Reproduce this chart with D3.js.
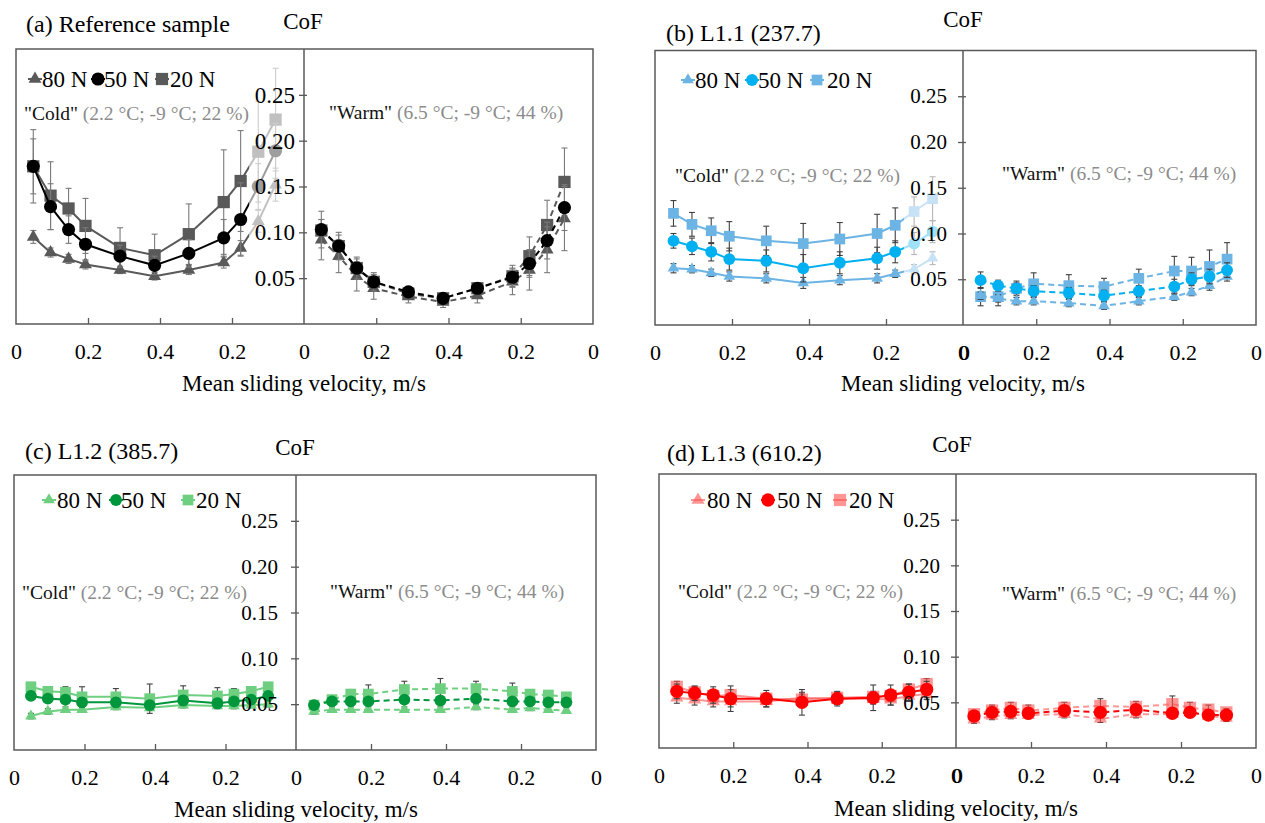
<!DOCTYPE html>
<html><head><meta charset="utf-8">
<script src="https://cdn.jsdelivr.net/npm/d3@7"></script>
<style>
body{margin:0;background:#fff;}
svg{display:block;}
svg text{font-family:"Liberation Serif","Times New Roman",serif !important;}
</style></head><body>
<svg id="chart" width="1265" height="823"></svg>
<script>
// ---------------- DATA ----------------
// x positions of the 11 measuring steps on the 0 -> 0.4 -> 0 velocity axis (0..0.8 scale)
const xPositions = [0.048, 0.096, 0.146, 0.193, 0.289, 0.385, 0.480, 0.577, 0.624, 0.673, 0.721];
const xTickValues = [0, 0.2, 0.4, 0.6, 0.8];
const xTickLabels = ["0", "0.2", "0.4", "0.2", "0"];
const yTickValues = [0.05, 0.10, 0.15, 0.20, 0.25];
const loadLabels = ["80 N", "50 N", "20 N"];
const conditionNames = ['"Cold"', '"Warm"'];
const conditionDetails = [" (2.2 °C; -9 °C; 22 %)", " (6.5 °C; -9 °C; 44 %)"];
const panelTitles = ["(a) Reference sample", "(b) L1.1 (237.7)", "(c) L1.2 (385.7)", "(d) L1.3 (610.2)"];
const yAxisLabel = "CoF";
const xAxisLabel = "Mean sliding velocity, m/s";

// (a) Reference sample
const aCold80 = [0.095, 0.078, 0.071, 0.065, 0.059, 0.052, 0.059, 0.067, 0.083, 0.112, 0.152];
const aCold50 = [0.172, 0.128, 0.103, 0.087, 0.074, 0.064, 0.077, 0.094, 0.114, 0.150, 0.189];
const aCold20 = [0.172, 0.140, 0.126, 0.107, 0.083, 0.075, 0.098, 0.133, 0.156, 0.188, 0.223];
const aWarm80 = [0.092, 0.074, 0.052, 0.039, 0.030, 0.024, 0.031, 0.046, 0.059, 0.081, 0.115];
const aWarm50 = [0.103, 0.085, 0.061, 0.046, 0.035, 0.028, 0.039, 0.051, 0.066, 0.091, 0.127];
const aWarm20 = [0.102, 0.085, 0.061, 0.046, 0.033, 0.028, 0.039, 0.052, 0.074, 0.108, 0.155];
const aCold80Err = [0.007, 0.005, 0.005, 0.005, 0.004, 0.004, 0.005, 0.006, 0.008, 0.012, 0.018];
const aCold50Err = [0.030, 0.025, 0.015, 0.018, 0.012, 0.010, 0.015, 0.020, 0.040, 0.025, 0.030];
const aCold20Err = [0.040, 0.037, 0.022, 0.030, 0.022, 0.023, 0.033, 0.057, 0.055, 0.055, 0.056];
const aWarm80Err = [0.022, 0.018, 0.016, 0.012, 0.007, 0.006, 0.008, 0.014, 0.022, 0.025, 0.035];
const aWarm50Err = [0.020, 0.015, 0.012, 0.010, 0.006, 0.005, 0.006, 0.010, 0.015, 0.020, 0.025];
const aWarm20Err = [0.012, 0.012, 0.010, 0.008, 0.006, 0.005, 0.006, 0.012, 0.021, 0.027, 0.037];

// (b) L1.1
const bCold80 = [0.062, 0.061, 0.057, 0.053, 0.051, 0.046, 0.049, 0.051, 0.056, 0.061, 0.073];
const bCold50 = [0.092, 0.086, 0.080, 0.072, 0.070, 0.062, 0.068, 0.073, 0.080, 0.089, 0.102];
const bCold20 = [0.122, 0.110, 0.103, 0.097, 0.092, 0.089, 0.094, 0.100, 0.109, 0.124, 0.138];
const bWarm80 = [0.032, 0.029, 0.026, 0.026, 0.024, 0.021, 0.026, 0.031, 0.036, 0.043, 0.053];
const bWarm50 = [0.049, 0.043, 0.040, 0.037, 0.035, 0.032, 0.037, 0.042, 0.050, 0.053, 0.060];
const bWarm20 = [0.031, 0.031, 0.040, 0.045, 0.043, 0.042, 0.051, 0.059, 0.059, 0.064, 0.072];
const bCold80Err = [0.005, 0.004, 0.004, 0.005, 0.005, 0.006, 0.005, 0.005, 0.004, 0.005, 0.007];
const bCold50Err = [0.008, 0.009, 0.010, 0.012, 0.012, 0.015, 0.012, 0.012, 0.012, 0.012, 0.012];
const bCold20Err = [0.014, 0.013, 0.014, 0.016, 0.016, 0.022, 0.018, 0.021, 0.019, 0.016, 0.024];
const bWarm80Err = [0.004, 0.004, 0.004, 0.004, 0.004, 0.004, 0.004, 0.004, 0.004, 0.005, 0.005];
const bWarm50Err = [0.009, 0.006, 0.006, 0.006, 0.006, 0.006, 0.006, 0.008, 0.007, 0.008, 0.008];
const bWarm20Err = [0.010, 0.010, 0.008, 0.012, 0.012, 0.009, 0.010, 0.016, 0.015, 0.018, 0.018];

// (c) L1.2
const cCold80 = [0.037, 0.042, 0.044, 0.044, 0.047, 0.046, 0.049, 0.048, 0.048, 0.049, 0.050];
const cCold50 = [0.059, 0.056, 0.055, 0.052, 0.052, 0.049, 0.054, 0.051, 0.053, 0.055, 0.059];
const cCold20 = [0.069, 0.064, 0.063, 0.058, 0.058, 0.056, 0.060, 0.059, 0.061, 0.064, 0.069];
const cWarm80 = [0.042, 0.044, 0.044, 0.044, 0.044, 0.044, 0.047, 0.044, 0.046, 0.044, 0.043];
const cWarm50 = [0.049, 0.053, 0.053, 0.053, 0.055, 0.054, 0.056, 0.053, 0.053, 0.052, 0.052];
const cWarm20 = [0.049, 0.055, 0.061, 0.061, 0.066, 0.067, 0.067, 0.064, 0.061, 0.060, 0.058];
const cCold80Err = [0.003, 0.003, 0.003, 0.003, 0.003, 0.003, 0.003, 0.003, 0.003, 0.003, 0.003];
const cCold50Err = [0.004, 0.004, 0.004, 0.005, 0.005, 0.005, 0.005, 0.005, 0.004, 0.004, 0.004];
const cCold20Err = [0.004, 0.004, 0.006, 0.011, 0.009, 0.016, 0.010, 0.009, 0.006, 0.004, 0.004];
const cWarm80Err = [0.003, 0.003, 0.003, 0.003, 0.003, 0.003, 0.003, 0.003, 0.003, 0.003, 0.003];
const cWarm50Err = [0.004, 0.004, 0.004, 0.004, 0.004, 0.004, 0.004, 0.004, 0.004, 0.004, 0.004];
const cWarm20Err = [0.003, 0.004, 0.005, 0.010, 0.009, 0.011, 0.008, 0.009, 0.003, 0.003, 0.003];

// (d) L1.3
const dCold80 = [0.055, 0.053, 0.051, 0.051, 0.051, 0.055, 0.054, 0.054, 0.053, 0.057, 0.059];
const dCold50 = [0.062, 0.060, 0.058, 0.054, 0.054, 0.050, 0.054, 0.055, 0.058, 0.061, 0.064];
const dCold20 = [0.067, 0.061, 0.057, 0.058, 0.054, 0.053, 0.055, 0.056, 0.057, 0.064, 0.070];
const dWarm80 = [0.031, 0.035, 0.036, 0.036, 0.037, 0.032, 0.037, 0.037, 0.039, 0.035, 0.033];
const dWarm50 = [0.035, 0.039, 0.040, 0.038, 0.041, 0.039, 0.042, 0.038, 0.039, 0.036, 0.036];
const dWarm20 = [0.037, 0.041, 0.044, 0.041, 0.044, 0.046, 0.045, 0.048, 0.044, 0.042, 0.039];
const dCold80Err = [0.006, 0.006, 0.006, 0.006, 0.006, 0.006, 0.006, 0.006, 0.006, 0.006, 0.006];
const dCold50Err = [0.008, 0.008, 0.009, 0.014, 0.009, 0.014, 0.008, 0.014, 0.011, 0.009, 0.009];
const dCold20Err = [0.006, 0.006, 0.006, 0.006, 0.006, 0.006, 0.006, 0.006, 0.006, 0.006, 0.006];
const dWarm80Err = [0.004, 0.004, 0.004, 0.004, 0.004, 0.004, 0.004, 0.004, 0.004, 0.004, 0.004];
const dWarm50Err = [0.004, 0.004, 0.004, 0.004, 0.004, 0.004, 0.004, 0.004, 0.004, 0.004, 0.004];
const dWarm20Err = [0.004, 0.006, 0.006, 0.006, 0.006, 0.008, 0.006, 0.009, 0.006, 0.005, 0.004];

// ---------------- LAYOUT / STYLE ----------------
const panels = [
  { title: panelTitles[0], titleX: 26, titleY: 32, cofX: 303, cofY: 29,
    left: 16, mid: 304, right: 593, top: 49, bottom: 324,
    yLabelPad: 4, yLabelSize: 23, overlayX: 249, boldMidZero: false,
    legendMarkerX: [35, 98, 162], legendTextX: [42, 104, 170], legendY: 79,
    notes: [{x: 24, y: 113}, {x: 329, y: 112}], axisTitleY: 391,
    colors: ["#595959", "#000000", "#595959"], errColor: "#7a7a7a",
    msize: [72, 135, 150],
    cold: [aCold80, aCold50, aCold20], coldErr: [aCold80Err, aCold50Err, aCold20Err],
    warm: [aWarm80, aWarm50, aWarm20], warmErr: [aWarm80Err, aWarm50Err, aWarm20Err] },
  { title: panelTitles[1], titleX: 666, titleY: 41, cofX: 963, cofY: 27,
    left: 655, mid: 963, right: 1256, top: 50.5, bottom: 325,
    yLabelPad: 11, yLabelSize: 21, overlayX: 904, boldMidZero: true,
    legendMarkerX: [688, 752, 817], legendTextX: [695, 758, 827], legendY: 80,
    notes: [{x: 675, y: 175}, {x: 1002, y: 173}], axisTitleY: 391,
    colors: ["#6cb4e4", "#00b0f0", "#6cb4e4"], errColor: "#404040",
    msize: [58, 110, 115],
    cold: [bCold80, bCold50, bCold20], coldErr: [bCold80Err, bCold50Err, bCold20Err],
    warm: [bWarm80, bWarm50, bWarm20], warmErr: [bWarm80Err, bWarm50Err, bWarm20Err] },
  { title: panelTitles[2], titleX: 25, titleY: 459, cofX: 295, cofY: 455,
    left: 14, mid: 296, right: 596, top: 475, bottom: 750,
    yLabelPad: 13, yLabelSize: 21, overlayX: 296, boldMidZero: false,
    legendMarkerX: [49, 116, 188], legendTextX: [57, 121, 196], legendY: 500,
    notes: [{x: 22, y: 592}, {x: 330, y: 591}], axisTitleY: 817,
    colors: ["#6fcf80", "#00963c", "#6fcf80"], errColor: "#404040",
    msize: [58, 110, 115],
    cold: [cCold80, cCold50, cCold20], coldErr: [cCold80Err, cCold50Err, cCold20Err],
    warm: [cWarm80, cWarm50, cWarm20], warmErr: [cWarm80Err, cWarm50Err, cWarm20Err] },
  { title: panelTitles[3], titleX: 667, titleY: 461, cofX: 952, cofY: 452,
    left: 659, mid: 956, right: 1256, top: 474, bottom: 748,
    yLabelPad: 11, yLabelSize: 21, overlayX: 956, boldMidZero: true,
    legendMarkerX: [698, 768, 840], legendTextX: [707, 777, 849], legendY: 500,
    notes: [{x: 678, y: 591}, {x: 1002, y: 593}], axisTitleY: 816,
    colors: ["rgba(255,80,80,0.6)", "#ff0000", "rgba(255,80,80,0.6)"], errColor: "#404040",
    msize: [75, 140, 150],
    cold: [dCold80, dCold50, dCold20], coldErr: [dCold80Err, dCold50Err, dCold20Err],
    warm: [dWarm80, dWarm50, dWarm20], warmErr: [dWarm80Err, dWarm50Err, dWarm20Err] }
];

const symbols = [d3.symbolTriangle, d3.symbolCircle, d3.symbolSquare];
const drawOrder = [2, 0, 1];
const frameColor = "#595959";
const svg = d3.select("#chart");

function drawSeries(g, x, y, vals, errs, p, dashed) {
  drawOrder.forEach(k => {
    const pts = xPositions.map((xp, i) => ({x: xp, v: vals[k][i], e: errs[k][i]}));
    const eg = g.append("g").attr("stroke", p.errColor).attr("stroke-width", 1.1);
    pts.forEach(d => {
      const cx = x(d.x), y1 = y(d.v + d.e), y2 = y(d.v - d.e);
      eg.append("line").attr("x1", cx).attr("x2", cx).attr("y1", y1).attr("y2", y2);
      eg.append("line").attr("x1", cx - 3).attr("x2", cx + 3).attr("y1", y1).attr("y2", y1);
      eg.append("line").attr("x1", cx - 3).attr("x2", cx + 3).attr("y1", y2).attr("y2", y2);
    });
    const line = d3.line().x(d => x(d.x)).y(d => y(d.v));
    g.append("path").datum(pts).attr("d", line).attr("fill", "none")
      .attr("stroke", p.colors[k]).attr("stroke-width", 2)
      .attr("stroke-dasharray", dashed ? "6,4" : null);
    g.selectAll(null).data(pts).enter().append("path")
      .attr("d", d3.symbol().type(symbols[k]).size(p.msize[k]))
      .attr("transform", d => `translate(${x(d.x)},${y(d.v)})`)
      .attr("fill", p.colors[k]);
  });
}

panels.forEach(p => {
  const g = svg.append("g");
  const xC = d3.scaleLinear().domain([0, 0.8]).range([p.left, p.mid]);
  const xW = d3.scaleLinear().domain([0, 0.8]).range([p.mid, p.right]);
  const y = d3.scaleLinear().domain([0, 0.30]).range([p.bottom, p.top]);

  drawSeries(g, xC, y, p.cold, p.coldErr, p, false);
  if (p.overlayX < p.mid) {
    g.append("rect").attr("x", p.overlayX).attr("y", p.top)
      .attr("width", p.mid - p.overlayX).attr("height", p.bottom - p.top)
      .attr("fill", "#fff").attr("opacity", 0.62);
  }
  drawSeries(g, xW, y, p.warm, p.warmErr, p, true);

  // frame
  g.append("rect").attr("x", p.left).attr("y", p.top)
    .attr("width", p.right - p.left).attr("height", p.bottom - p.top)
    .attr("fill", "none").attr("stroke", frameColor).attr("stroke-width", 1.5);

  // y axis at the middle
  const ya = g.append("g").attr("transform", `translate(${p.mid},0)`)
    .call(d3.axisLeft(y).tickValues(yTickValues).tickSize(5).tickSizeOuter(0)
      .tickPadding(p.yLabelPad).tickFormat(d3.format(".2f")));
  ya.select(".domain").attr("stroke", frameColor).attr("stroke-width", 1.5)
    .attr("d", `M0,${p.top}V${p.bottom}`);
  ya.selectAll(".tick line").attr("stroke", frameColor).attr("stroke-width", 1.3).attr("x2", -5).attr("x1", 3);
  ya.selectAll("text").attr("font-size", p.yLabelSize).attr("fill", "#000");

  // x axes (inner ticks + labels)
  [xC, xW].forEach((xs, si) => {
    const t = g.append("g").attr("transform", `translate(0,${p.bottom})`)
      .call(d3.axisBottom(xs).tickValues([0.2, 0.4, 0.6]).tickSize(-6).tickFormat(""));
    t.select(".domain").remove();
    t.selectAll(".tick line").attr("stroke", frameColor).attr("stroke-width", 1.3);
    const l = g.append("g").attr("transform", `translate(0,${p.bottom})`)
      .call(d3.axisBottom(xs).tickValues(xTickValues).tickSize(0).tickPadding(19)
        .tickFormat((d, i) => xTickLabels[i]));
    l.select(".domain").remove();
    l.selectAll("text").attr("font-size", 22).attr("fill", "#000");
    if (si === 1) {
      const first = l.selectAll(".tick").filter(d => d === 0);
      if (p.boldMidZero) first.select("text").attr("x", 1);
      else first.remove();
    }
  });

  // titles
  g.append("text").attr("x", p.titleX).attr("y", p.titleY).attr("font-size", 24).text(p.title);
  g.append("text").attr("x", p.cofX).attr("y", p.cofY).attr("text-anchor", "middle")
    .attr("font-size", 23).text(yAxisLabel);
  g.append("text").attr("x", p.mid).attr("y", p.axisTitleY).attr("text-anchor", "middle")
    .attr("font-size", 23).text(xAxisLabel);

  // condition notes
  p.notes.forEach((n, i) => {
    const t = g.append("text").attr("x", n.x).attr("y", n.y).attr("dy", "0.35em").attr("font-size", 19.5);
    t.append("tspan").attr("fill", "#111").text(conditionNames[i]);
    t.append("tspan").attr("fill", "#8c8c8c").text(conditionDetails[i]);
  });

  // legend
  loadLabels.forEach((lab, k) => {
    const mx = p.legendMarkerX[k];
    g.append("line").attr("x1", mx - 7).attr("x2", mx + 7).attr("y1", p.legendY).attr("y2", p.legendY)
      .attr("stroke", p.colors[k]).attr("stroke-width", 2);
    g.append("path").attr("d", d3.symbol().type(symbols[k]).size(p.msize[k]))
      .attr("transform", `translate(${mx},${p.legendY})`).attr("fill", p.colors[k]);
    g.append("text").attr("x", p.legendTextX[k]).attr("y", p.legendY).attr("dy", "0.35em")
      .attr("font-size", 23).text(lab);
  });
});
</script>
</body></html>
